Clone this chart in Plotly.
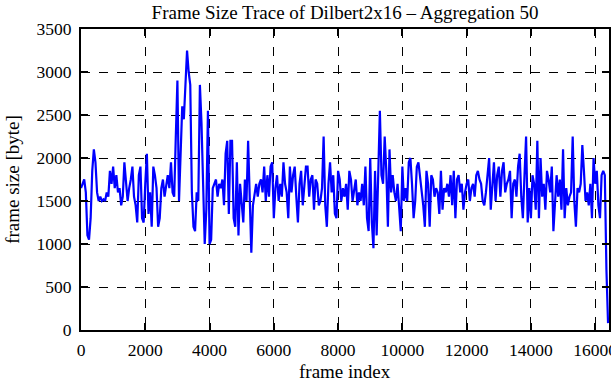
import plotly.graph_objects as go

step = 50
seg1 = [1650, 1700, 1750, 1600, 1100, 1050, 1300, 1850, 2100, 1950, 1600, 1500, 1550, 1500, 1520, 1500,
        1600, 1550, 1850, 1700, 1900, 1650, 1800, 1600, 1650, 1450, 1550, 1950, 1700, 1500, 1650, 1750,
        1900, 1550, 1450, 1250, 1800, 1900, 1300, 1250, 1700, 2050, 1350, 1600, 1200, 1900, 1800]
seg2 = [1650, 1200, 1300, 1650, 1750, 1550, 1700, 1800, 1650, 1950, 1600, 1550, 2250, 2900, 1500, 2150,
        2600, 2450, 2800, 3250, 3000, 2850, 1600, 1200, 1150, 1600, 1500, 2850, 2400, 1800, 1000, 1400,
        2550, 1000, 1050, 1650, 1700, 1750, 1550, 1700, 1650, 1750, 1450, 2050, 2200, 1350, 2200]
seg3 = [2200, 1300, 1200, 1950, 1100, 1700, 1450, 1250, 1750, 1500, 2200, 1400, 900, 1450, 1600, 1700,
        1550, 1700, 1750, 1600, 1900, 1500, 1800, 1550, 1900, 1950, 1300, 1650, 1800, 1500, 1700, 1550,
        1950, 1700, 1600, 1300, 1900, 1600, 1800, 1900, 1550, 1250, 1700, 1850, 1450, 1650, 1900]
seg4 = [1900, 1550, 1750, 1800, 1400, 1750, 1700, 1450, 1500, 1650, 2250, 1450, 1200, 1700, 1950, 1600,
        1800, 1350, 1300, 1850, 1750, 1500, 1650, 1550, 1700, 1400, 1850, 1750, 1500, 1650, 1750, 1450,
        1600, 1500, 1700, 1450, 1900, 1300, 1150, 2000, 1250, 950, 1850, 1100, 1700, 2550, 1800]
seg5 = [1700, 2250, 1850, 1200, 2100, 1600, 1800, 1600, 1500, 1700, 1350, 1150, 1900, 1500, 1650, 1500,
        1950, 2000, 1700, 1300, 1500, 1900, 1950, 1800, 1600, 1450, 1200, 1850, 1700, 1200, 1800, 1750,
        1550, 1650, 1600, 1350, 1850, 1400, 1650, 1600, 1700, 1550, 1800, 1450, 1850, 1300, 1750]
seg6 = [1800, 1600, 1700, 1400, 1600, 1700, 1750, 1500, 1650, 1700, 1550, 1800, 1850, 1750, 1700, 1500,
        1450, 1600, 1850, 2000, 1400, 1650, 1950, 1500, 1800, 1900, 1550, 1850, 1950, 1600, 1700, 1750,
        1850, 1300, 1700, 1750, 1550, 1900, 2050, 1550, 1300, 1800, 2250, 1250, 1650, 1300, 1800]
seg7 = [1700, 1400, 2200, 1300, 2000, 1550, 1700, 1400, 1850, 1750, 1600, 1900, 1150, 1550, 1800, 1550,
        1750, 1400, 2100, 1300, 1650, 1450, 1550, 1600, 2250, 1500, 1200, 1650, 1600, 1700, 2150, 1850,
        1500, 1600, 1450, 1700, 1300, 2000, 1700, 1850, 1450, 1300, 1800, 1850, 1800, 700, 80]

frame_size = seg1 + seg2 + seg3 + seg4 + seg5 + seg6 + seg7
frame_index = [i * step for i in range(len(frame_size))]

x_ticks = list(range(0, 16001, 2000))
y_ticks = list(range(0, 3501, 500))

font = "Liberation Serif"
fs_tick = 17.5
fs_title = 19

fig = go.Figure()
fig.add_trace(go.Scatter(x=frame_index, y=frame_size, mode="lines",
                         line=dict(color="#0000FF", width=2.2), showlegend=False))

axis_common = dict(
    showline=True, linewidth=2, linecolor="black", mirror="ticks",
    ticks="inside", ticklen=7, tickwidth=1.5, tickcolor="black",
    showgrid=True, gridcolor="black", gridwidth=1, griddash="dash",
    zeroline=False, tickfont=dict(family=font, size=fs_tick, color="black"),
    automargin=False, ticklabeloverflow="allow",
)

fig.update_xaxes(range=[0, 16430], tickvals=x_ticks, ticktext=[str(v) for v in x_ticks],
                 ticklabelstandoff=3, **axis_common)
fig.update_yaxes(range=[0, 3500], tickvals=y_ticks, ticktext=[str(v) for v in y_ticks],
                 ticklabelstandoff=4, **axis_common)

fig.add_annotation(text="frame index", xref="paper", yref="paper", x=0.5, y=-0.139,
                   yanchor="middle", xanchor="center", showarrow=False,
                   font=dict(family=font, size=fs_title, color="black"))
fig.add_annotation(text="frame size [byte]", xref="paper", yref="paper", x=-0.13, y=0.5,
                   xanchor="center", yanchor="middle", textangle=-90, showarrow=False,
                   font=dict(family=font, size=fs_title, color="black"))

fig.update_layout(
    width=611, height=380,
    margin=dict(l=81, r=2, t=29, b=50),
    paper_bgcolor="white", plot_bgcolor="white",
    title=dict(text="Frame Size Trace of Dilbert2x16 \u2013 Aggregation 50",
               font=dict(family=font, size=fs_title, color="black"),
               x=0.5, xref="paper", y=1 - 12 / 380, yref="container", yanchor="middle"),
)

fig.write_html("out.html", config={"displayModeBar": False},
               post_script="document.body.style.margin='0';document.body.style.padding='0';")
